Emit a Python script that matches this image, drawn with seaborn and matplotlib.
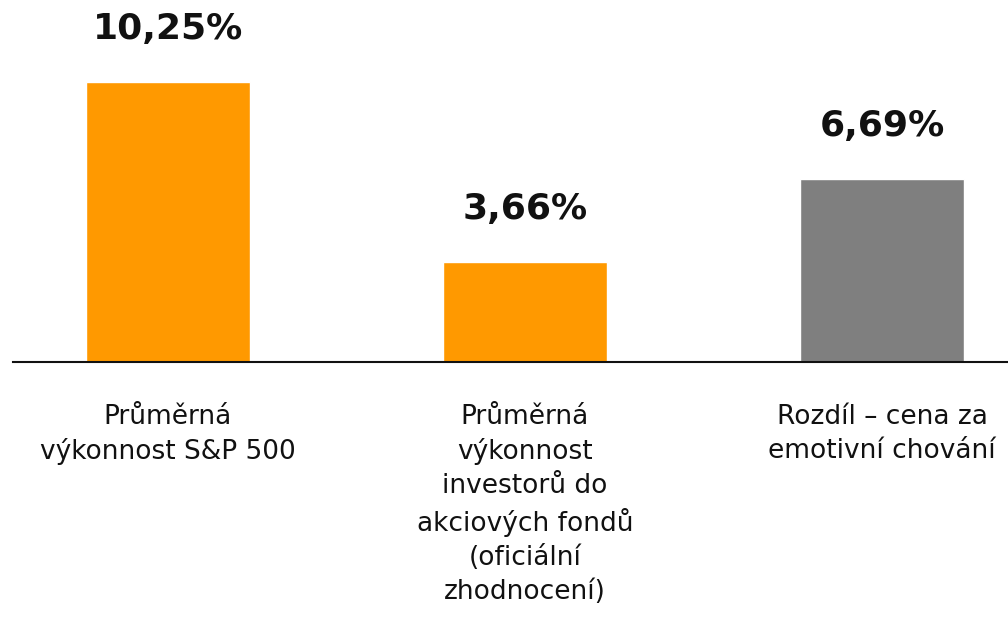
import matplotlib
matplotlib.use("Agg")
import matplotlib.pyplot as plt
import seaborn as sns
import pandas as pd

# Data
kategorie = [
    "Průměrná\nvýkonnost S&P 500",
    "Průměrná\nvýkonnost\ninvestorů do\nakciových fondů\n(oficiální\nzhodnocení)",
    "Rozdíl – cena za\nemotivní chování",
]
hodnoty = [10.25, 3.66, 6.69]
popisky = ["10,25%", "3,66%", "6,69%"]
barvy = ["#FF9900", "#FF9900", "#7F7F7F"]

df = pd.DataFrame({"kategorie": kategorie, "hodnota": hodnoty})

sns.set_theme(style="white")
plt.rcParams["font.family"] = ["DejaVu Sans"]

fig = plt.figure(figsize=(10.08, 6.19), dpi=100)
ax = fig.add_axes([13 / 1008, 1 - 362 / 619, 1 - 13 / 1008, 362 / 619])

sns.barplot(data=df, x="kategorie", y="hodnota", hue="kategorie",
            palette=barvy, legend=False, width=0.46, saturation=1, ax=ax)

# hodnoty nad sloupci
for i, (h, txt) in enumerate(zip(hodnoty, popisky)):
    ax.annotate(txt, (i, h), xytext=(0, 31), textcoords="offset points",
                ha="center", va="baseline", fontsize=26, fontweight="bold",
                color="#111111")

ax.set_xlim(-0.434, 2.353)
ax.set_ylim(0, 13.25)
ax.set_xlabel("")
ax.set_ylabel("")
ax.set_yticks([])
ax.tick_params(axis="x", length=0, pad=30, labelsize=19, labelcolor="#111111")
for lab in ax.get_xticklabels():
    lab.set_linespacing(1.4)
    lab.set_va("top")

for s in ["top", "right", "left"]:
    ax.spines[s].set_visible(False)
ax.spines["bottom"].set_color("#111111")
ax.spines["bottom"].set_linewidth(1.5)

fig.savefig("out.png", dpi=100)
